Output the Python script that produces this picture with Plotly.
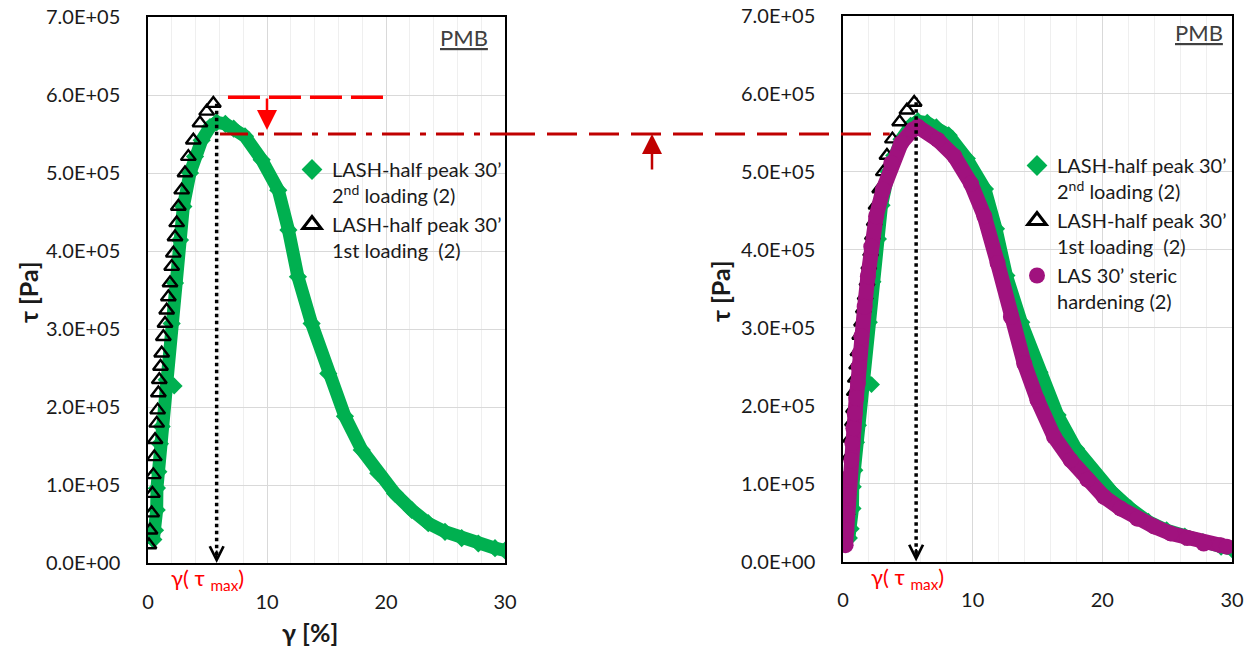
import plotly.graph_objects as go

W, H = 1256, 649

# ---------------- data (tau in units of 1E+05 Pa) ----------------
# LASH-half peak 30' 2nd loading (2)  -- green diamonds
gamma_green = [0.45, 0.59, 0.73, 0.75, 0.87, 1.0, 1.15, 1.57, 1.99, 2.27, 2.69, 2.97, 3.53, 3.95,
               4.51, 5.21, 5.77, 6.5, 7.2, 8.15, 9.55, 10.95, 11.8, 12.6, 13.75, 15.15, 16.55,
               17.96, 19.35, 20.76, 22.16, 23.55, 24.96, 26.36, 27.76, 29.16, 30.0]
tau_green = [0.30, 0.42, 0.68, 0.96, 1.17, 1.53, 1.75, 2.35, 3.07, 3.59, 4.14, 4.57, 5.0, 5.21,
             5.42, 5.59, 5.65, 5.63, 5.57, 5.47, 5.17, 4.78, 4.27, 3.67, 3.07, 2.43, 1.88,
             1.45, 1.15, 0.89, 0.68, 0.51, 0.40, 0.32, 0.25, 0.19, 0.16]
gamma_green_outlier = [2.2]
tau_green_outlier = [2.27]

# LASH-half peak 30' 1st loading (2)  -- black open triangles
gamma_black = [0.08, 0.17, 0.31, 0.37, 0.45, 0.53, 0.59, 0.73, 0.81, 0.87, 0.95, 1.05, 1.15, 1.29,
               1.43, 1.57, 1.71, 1.85, 1.99, 2.13, 2.27, 2.41, 2.55, 2.83, 3.11, 3.39, 3.81,
               4.37, 4.93, 5.49]
tau_black = [0.23, 0.42, 0.64, 0.89, 1.13, 1.36, 1.58, 1.79, 1.96, 2.18, 2.35, 2.52, 2.69, 2.90,
             3.07, 3.24, 3.41, 3.59, 3.80, 3.97, 4.18, 4.36, 4.57, 4.78, 5.0, 5.21, 5.42,
             5.64, 5.79, 5.89]

# LAS 30' steric hardening (2)  -- purple circles
gamma_purple = [0.2, 0.26, 0.33, 0.38, 0.51, 0.64, 0.72, 0.8, 0.90, 1.02, 1.15, 1.21, 1.28, 1.41,
                1.67, 1.92, 2.18, 2.56, 3.08, 3.72, 4.49, 5.38, 5.77, 7.31, 8.59, 9.87, 10.9,
                11.92, 12.95, 13.98, 15.0, 16.28, 17.56, 18.85, 20.13, 21.41, 22.69, 23.98,
                25.26, 26.54, 27.82, 29.1, 29.6]
tau_purple = [0.21, 0.40, 0.62, 0.85, 1.09, 1.30, 1.52, 1.71, 1.90, 2.10, 2.29, 2.50, 2.67, 2.89,
              3.27, 3.66, 4.04, 4.43, 4.77, 5.11, 5.37, 5.54, 5.58, 5.41, 5.20, 4.85, 4.43,
              3.83, 3.14, 2.54, 2.07, 1.60, 1.30, 1.05, 0.83, 0.68, 0.55, 0.45, 0.36, 0.30,
              0.23, 0.21, 0.19]

# reference levels / markers drawn on the chart (1E+05 Pa, %)
tau_level_1st = 5.97
tau_level_2nd = 5.5
gamma_tau_max_left = 5.77
gamma_tau_max_right = 5.64

y_tickvals = [0, 1, 2, 3, 4, 5, 6, 7]
y_ticktext = ["0.0E+00", "1.0E+05", "2.0E+05", "3.0E+05", "4.0E+05", "5.0E+05", "6.0E+05", "7.0E+05"]
x_tickvals = [0, 10, 20, 30]

name_green = "LASH-half peak 30’<br>2<sup>nd</sup> loading (2)"
name_black = "LASH-half peak 30’<br>1st loading  (2)"
name_purple = "LAS 30’ steric<br>hardening (2)"

def pa(vals):
    return [v * 1e5 for v in vals]

GREEN = "#00B050"
PURPLE = "#A0127E"
FONT = "Lato, 'DejaVu Sans', sans-serif"
TXT = "#1a1a1a"

xl = [148 / W, 505 / W]
yl = [(H - 563) / H, (H - 17) / H]
xr = [843 / W, 1232 / W]
yr = [(H - 561.5) / H, (H - 16) / H]

fig = go.Figure()

def add_series(xa, ya, legend, with_purple):
    # green band
    fig.add_trace(go.Scatter(x=gamma_green, y=pa(tau_green), mode="lines+markers", xaxis=xa, yaxis=ya,
                             line=dict(color=GREEN, width=13),
                             marker=dict(symbol="diamond", size=14, color=GREEN),
                             showlegend=False, hoverinfo="skip"))
    fig.add_trace(go.Scatter(x=gamma_green_outlier, y=pa(tau_green_outlier), mode="markers", xaxis=xa, yaxis=ya,
                             marker=dict(symbol="diamond", size=13, color=GREEN),
                             showlegend=False, hoverinfo="skip"))
    # black triangles
    fig.add_trace(go.Scatter(x=gamma_black, y=pa(tau_black), mode="markers", xaxis=xa, yaxis=ya,
                             marker=dict(symbol="triangle-up-open", size=13, color="black",
                                         line=dict(width=2.4, color="black")),
                             showlegend=False, hoverinfo="skip"))
    if with_purple:
        fig.add_trace(go.Scatter(x=gamma_purple, y=pa(tau_purple), mode="lines+markers", xaxis=xa, yaxis=ya,
                                 line=dict(color=PURPLE, width=15),
                                 marker=dict(symbol="circle", size=16, color=PURPLE),
                                 showlegend=False, hoverinfo="skip"))
    # legend entries
    fig.add_trace(go.Scatter(x=[None], y=[None], mode="markers", xaxis=xa, yaxis=ya, legend=legend,
                             name=name_green, marker=dict(symbol="diamond", size=16, color=GREEN)))
    fig.add_trace(go.Scatter(x=[None], y=[None], mode="markers", xaxis=xa, yaxis=ya, legend=legend,
                             name=name_black, marker=dict(symbol="triangle-up-open", size=16, color="black",
                                                          line=dict(width=3, color="black"))))
    if with_purple:
        fig.add_trace(go.Scatter(x=[None], y=[None], mode="markers", xaxis=xa, yaxis=ya, legend=legend,
                                 name=name_purple, marker=dict(symbol="circle", size=16, color=PURPLE)))

add_series("x", "y", "legend", False)
add_series("x2", "y2", "legend2", True)

xcommon = dict(range=[0, 30], tickvals=x_tickvals, showgrid=True, gridcolor="#d9d9d9", gridwidth=1,
               minor=dict(dtick=2, showgrid=True, gridcolor="#efefef", gridwidth=1),
               zeroline=False, showline=True, linecolor="black", linewidth=1.5, mirror=True,
               ticks="", ticklabelstandoff=20, automargin=False,
               tickfont=dict(family=FONT, size=20, color=TXT), fixedrange=True)
ycommon = dict(range=[0, 7e5], tickvals=pa(y_tickvals), ticktext=y_ticktext, showgrid=True,
               gridcolor="#d9d9d9", gridwidth=1, zeroline=False, showline=True, linecolor="black",
               linewidth=1.5, mirror=True, ticks="", ticklabelstandoff=22, automargin=False,
               tickfont=dict(family=FONT, size=20, color=TXT), fixedrange=True)

legend_common = dict(font=dict(family=FONT, size=20, color=TXT), bgcolor="rgba(0,0,0,0)",
                     xanchor="left", yanchor="top", valign="top", tracegroupgap=0, itemwidth=30)

fig.update_layout(
    width=W, height=H,
    margin=dict(l=0, r=0, t=0, b=0, autoexpand=False),
    paper_bgcolor="white", plot_bgcolor="white",
    xaxis=dict(domain=xl, anchor="y", **xcommon),
    yaxis=dict(domain=yl, anchor="x", **ycommon),
    xaxis2=dict(domain=xr, anchor="y2", **xcommon),
    yaxis2=dict(domain=yr, anchor="x2", **ycommon),
    legend=dict(x=292 / W, y=1 - 150 / H, **legend_common),
    legend2=dict(x=1017 / W, y=1 - 146 / H, **legend_common),
)

RED = "#FF0000"
DRED = "#C00000"
shapes = [
    # first-loading level (bright red dashed)
    dict(type="line", xref="x", yref="y", x0=6.72, x1=20.1, y0=tau_level_1st * 1e5, y1=tau_level_1st * 1e5,
         line=dict(color=RED, width=3.5, dash="32px,9px")),
    # second-loading level in left chart (dash-dot)
    dict(type="line", xref="x", yref="y", x0=6.05, x1=30, y0=tau_level_2nd * 1e5, y1=tau_level_2nd * 1e5,
         line=dict(color=DRED, width=3, dash="28px,10px,6px,10px")),
    # connector between the charts
    dict(type="line", xref="paper", yref="y", x0=xl[1], x1=xr[0] + 3.6 / 30 * (xr[1] - xr[0]),
         y0=tau_level_2nd * 1e5, y1=tau_level_2nd * 1e5,
         line=dict(color=DRED, width=3, dash="30px,12px")),
    # dotted vertical lines at gamma(tau_max)
    dict(type="line", xref="x", yref="y", x0=gamma_tau_max_left, x1=gamma_tau_max_left, y0=0.1e5, y1=5.93e5,
         line=dict(color="black", width=3.5, dash="dot")),
    dict(type="line", xref="x2", yref="y2", x0=gamma_tau_max_right, x1=gamma_tau_max_right, y0=0.1e5, y1=5.95e5,
         line=dict(color="black", width=3.5, dash="dot")),
]
fig.update_layout(shapes=shapes)

ann = []
# arrows
ann.append(dict(xref="x", yref="y", x=10, y=5.55e5, ax=0, ay=-33, text="", showarrow=True,
                arrowhead=2, arrowsize=1.6, arrowwidth=2.5, arrowcolor=RED))
ann.append(dict(xref="paper", yref="y", x=652 / W, y=tau_level_2nd * 1e5, ax=0, ay=37, text="", showarrow=True,
                arrowhead=2, arrowsize=1.6, arrowwidth=2.5, arrowcolor=DRED))
ann.append(dict(xref="x", yref="y", x=gamma_tau_max_left, y=0, ax=0, ay=-14, text="", showarrow=True,
                arrowhead=5, arrowsize=1.5, arrowwidth=1.8, arrowcolor="black"))
ann.append(dict(xref="x2", yref="y2", x=gamma_tau_max_right, y=0, ax=0, ay=-14, text="", showarrow=True,
                arrowhead=5, arrowsize=1.5, arrowwidth=1.8, arrowcolor="black"))
# red gamma(tau_max) labels
for xc, yc in [(207, 579), (907, 578)]:
    ann.append(dict(xref="paper", yref="paper", x=xc / W, y=1 - yc / H, xanchor="center", yanchor="middle",
                    text="γ( τ <sub>max</sub>)", showarrow=False,
                    font=dict(family=FONT, size=22, color=RED)))
# PMB labels
for xc, yc in [(464, 37), (1199, 32)]:
    ann.append(dict(xref="paper", yref="paper", x=xc / W, y=1 - yc / H, xanchor="center", yanchor="middle",
                    text="<u>PMB</u>", showarrow=False, font=dict(family=FONT, size=22, color="#404040")))
# axis titles
for xc in [28, 720]:
    ann.append(dict(xref="paper", yref="paper", x=xc / W, y=1 - 292 / H, xanchor="center", yanchor="middle",
                    text="<b>τ [Pa]</b>", textangle=-90, showarrow=False,
                    font=dict(family=FONT, size=25, color=TXT)))
ann.append(dict(xref="paper", yref="paper", x=310 / W, y=1 - 632 / H, xanchor="center", yanchor="middle",
                text="<b>γ [%]</b>", showarrow=False, font=dict(family=FONT, size=25, color=TXT)))
fig.update_layout(annotations=ann)

fig.write_html("out.html", config={"displayModeBar": False},
               post_script="document.body.style.margin='0px';document.body.style.padding='0px';"
                           "document.body.style.overflow='hidden';")
